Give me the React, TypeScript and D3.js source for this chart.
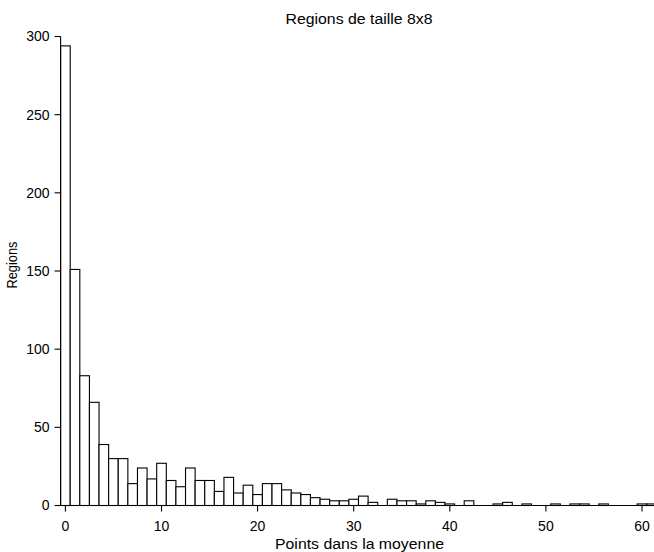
import React from "react";
import * as d3 from "d3";

const binValues: number[] = [
  294, 151, 83, 66, 39, 30, 30, 14, 24, 17,
  27, 16, 12, 24, 16, 16, 9, 18, 8, 13,
  7, 14, 14, 10, 8, 7, 5, 4, 3, 3,
  4, 6, 2, 0, 4, 3, 3, 1, 3, 2,
  1, 0, 3, 0, 0, 1, 2, 0, 1, 0,
  0, 1, 0, 1, 1, 0, 1, 0, 0, 0,
  1, 1,
];
const xTicks: number[] = [0, 10, 20, 30, 40, 50, 60];
const yTicks: number[] = [0, 50, 100, 150, 200, 250, 300];
const titleText = "Regions de taille 8x8";
const xLabel = "Points dans la moyenne";
const yLabel = "Regions";

const W = 654;
const H = 552;
const FONT = "'Liberation Sans', Arial, Helvetica, sans-serif";

export default function App() {
  const x = d3.scaleLinear().domain([0, 60]).range([65.4, 642]);
  const y = d3.scaleLinear().domain([0, 300]).range([505.5, 36.5]);
  const axisX = x(-0.5);
  const bins = binValues.map((v, i) => ({ i, v }));

  return (
    <div style={{ position: "absolute", left: 0, top: 0 }}>
      <svg width={W} height={H} style={{ display: "block", background: "#fff" }}>
        <g>
          {bins.map((b) => {
            const x0 = x(b.i - 0.5);
            const x1 = x(b.i + 0.5);
            const y0 = y(0);
            const y1 = y(b.v);
            if (b.v === 0) return null;
            return (
              <rect
                key={b.i}
                x={x0}
                y={y1}
                width={x1 - x0}
                height={y0 - y1}
                fill="#fff"
                stroke="#000"
                strokeWidth={1.1}
              />
            );
          })}
        </g>
        {/* y axis */}
        <line x1={axisX} x2={axisX} y1={y(0)} y2={y(300)} stroke="#000" strokeWidth={1.1} />
        {yTicks.map((t) => (
          <g key={t}>
            <line x1={axisX - 6} x2={axisX} y1={y(t)} y2={y(t)} stroke="#000" strokeWidth={1.1} />
            <text
              x={axisX - 11}
              y={y(t)}
              dy="0.35em"
              textAnchor="end"
              fontFamily={FONT}
              fontSize={14}
              fill="#000"
            >
              {t}
            </text>
          </g>
        ))}
        {/* x axis */}
        <line x1={axisX} x2={W} y1={y(0)} y2={y(0)} stroke="#000" strokeWidth={1.1} />
        {xTicks.map((t) => (
          <g key={t}>
            <line x1={x(t)} x2={x(t)} y1={y(0)} y2={y(0) + 6} stroke="#000" strokeWidth={1.1} />
            <text
              x={x(t)}
              y={530.5}
              textAnchor="middle"
              fontFamily={FONT}
              fontSize={14}
              fill="#000"
            >
              {t}
            </text>
          </g>
        ))}
        <text
          x={359}
          y={24}
          textAnchor="middle"
          fontFamily={FONT}
          fontSize={14}
          fill="#000"
          textLength={147}
          lengthAdjust="spacingAndGlyphs"
        >
          {titleText}
        </text>
        <text
          x={359.5}
          y={549}
          textAnchor="middle"
          fontFamily={FONT}
          fontSize={14}
          fill="#000"
          textLength={169}
          lengthAdjust="spacingAndGlyphs"
        >
          {xLabel}
        </text>
        <text
          transform={`translate(17,${265}) rotate(-90)`}
          textAnchor="middle"
          fontFamily={FONT}
          fontSize={14}
          fill="#000"
          textLength={47}
          lengthAdjust="spacingAndGlyphs"
        >
          {yLabel}
        </text>
      </svg>
    </div>
  );
}
